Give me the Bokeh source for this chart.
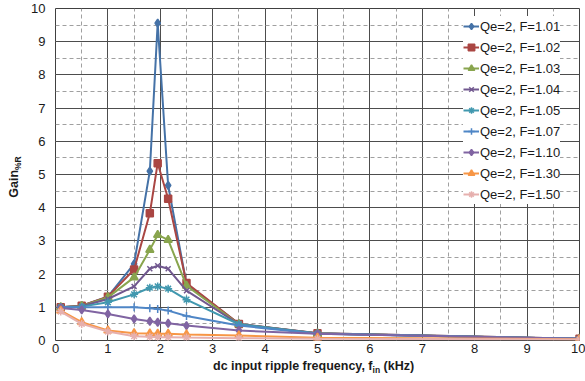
from bokeh.plotting import figure
from bokeh.models import Range1d, SingleIntervalTicker, Legend, LegendItem, Div
from bokeh.layouts import row, column
from bokeh.embed import file_html
from bokeh.resources import INLINE

freq = [0.1, 0.5, 1.0, 1.5, 1.8, 1.95, 2.15, 2.5, 3.5, 5.0, 10.0]

series_names = ["Qe=2, F=1.01", "Qe=2, F=1.02", "Qe=2, F=1.03", "Qe=2, F=1.04", "Qe=2, F=1.05",
                "Qe=2, F=1.07", "Qe=2, F=1.10", "Qe=2, F=1.30", "Qe=2, F=1.50"]
gain_f101 = [1.00, 1.05, 1.32, 2.31, 5.10, 9.56, 4.67, 1.70, 0.50, 0.22, 0.05]
gain_f102 = [1.00, 1.05, 1.32, 2.14, 3.83, 5.34, 4.27, 1.73, 0.50, 0.22, 0.05]
gain_f103 = [1.00, 1.04, 1.30, 1.90, 2.73, 3.18, 3.03, 1.65, 0.49, 0.21, 0.05]
gain_f104 = [1.00, 1.03, 1.25, 1.63, 2.16, 2.25, 2.16, 1.50, 0.49, 0.21, 0.05]
gain_f105 = [1.00, 1.02, 1.15, 1.39, 1.59, 1.63, 1.56, 1.23, 0.49, 0.21, 0.05]
gain_f107 = [1.00, 1.00, 1.00, 1.00, 0.97, 0.95, 0.90, 0.74, 0.45, 0.20, 0.05]
gain_f110 = [0.98, 0.92, 0.80, 0.65, 0.58, 0.55, 0.52, 0.45, 0.30, 0.20, 0.05]
gain_f130 = [0.90, 0.55, 0.30, 0.22, 0.21, 0.20, 0.20, 0.18, 0.15, 0.08, 0.04]
gain_f150 = [0.87, 0.50, 0.27, 0.13, 0.11, 0.10, 0.10, 0.09, 0.07, 0.05, 0.03]

x_label_main = "dc input ripple frequency, f"
x_label_sub = "in"
x_label_unit = "(kHz)"
y_label_main = "Gain"
y_label_sub = "%R"

all_gains = [gain_f101, gain_f102, gain_f103, gain_f104, gain_f105,
             gain_f107, gain_f110, gain_f130, gain_f150]
colors = ["#4572A7", "#AA4643", "#89A54E", "#71588F", "#4198AF",
          "#4F86C6", "#8064A2", "#F79646", "#E6B0AE"]
markers = ["diamond", "square", "triangle", "x", "asterisk",
           "cross", "diamond", "triangle", "asterisk"]
msizes = [8, 7, 8, 7, 8, 8, 8, 8, 8]

FONT = "Liberation Sans"
LEFT_W = 22
TOP_H = 358

p = figure(width=585 - LEFT_W, height=TOP_H, output_backend="svg", toolbar_location=None,
           x_range=Range1d(0, 10), y_range=Range1d(0, 10),
           min_border_left=55 - LEFT_W, min_border_right=6, min_border_top=8,
           min_border_bottom=TOP_H - 340)
p.frame_width = 524
p.frame_height = 332

p.background_fill_color = "white"
p.border_fill_color = "white"
p.outline_line_color = "#404040"
p.outline_line_width = 1

for ax in (p.xaxis, p.yaxis):
    ax.axis_line_color = None
    ax.major_tick_line_color = None
    ax.minor_tick_line_color = None
    ax.major_tick_out = 0
    ax.major_tick_in = 0
    ax.minor_tick_out = 0
    ax.minor_tick_in = 0
    ax.major_label_text_font = FONT
    ax.major_label_text_font_size = "13px"
    ax.major_label_text_color = "#1a1a1a"

p.xaxis.ticker = SingleIntervalTicker(interval=1, num_minor_ticks=2)
p.yaxis.ticker = SingleIntervalTicker(interval=1, num_minor_ticks=2)
p.xaxis.major_label_standoff = 3
p.yaxis.major_label_standoff = 10

for g in (p.xgrid, p.ygrid):
    g.ticker = SingleIntervalTicker(interval=1, num_minor_ticks=2)
    g.grid_line_color = "#4d4d4d"
    g.grid_line_width = 1
    g.minor_grid_line_color = "#a0a0a0"
    g.minor_grid_line_dash = "4 3"
    g.minor_grid_line_width = 1

items = []
for name, gains, c, m, s in zip(series_names, all_gains, colors, markers, msizes):
    ln = p.line(freq, gains, line_color=c, line_width=2)
    sc = p.scatter(freq, gains, marker=m, size=s, line_color=c, fill_color=c, line_width=1.5)
    items.append(LegendItem(label=name, renderers=[ln, sc]))

legend = Legend(items=items, location=(408, 136), margin=0, padding=4,
                label_text_font=FONT, label_text_font_size="13px",
                label_text_color="#1a1a1a", glyph_width=16, glyph_height=20,
                label_height=20, spacing=1, label_standoff=1,
                background_fill_color="white", background_fill_alpha=1.0,
                border_line_color=None)
p.add_layout(legend, "center")

font_css = f"font-family:'{FONT}';font-weight:bold;font-size:12.5px;color:#1a1a1a;"

ydiv = Div(width=LEFT_W, height=381, margin=0,
           text=(f'<div style="position:relative;width:{LEFT_W}px;height:381px;">'
                 f'<div style="position:absolute;left:15px;top:177px;'
                 f'transform:translate(-50%,-50%) rotate(-90deg);white-space:nowrap;{font_css}">'
                 f'{y_label_main}<sub style="font-size:8.5px;">{y_label_sub}</sub></div></div>'))

xdiv = Div(width=585 - LEFT_W, height=381 - TOP_H, margin=0,
           text=(f'<div style="position:relative;width:{585 - LEFT_W}px;height:{381 - TOP_H}px;">'
                 f'<div style="position:absolute;left:{213 - LEFT_W}px;top:10px;'
                 f'transform:translateY(-50%);white-space:nowrap;line-height:14px;{font_css}">'
                 f'{x_label_main}<sub style="font-size:8.5px;">{x_label_sub}</sub> {x_label_unit}</div></div>'))

layout = row(ydiv, column(p, xdiv, spacing=0), spacing=0)

open("out.html", "w").write(file_html(layout, INLINE))
